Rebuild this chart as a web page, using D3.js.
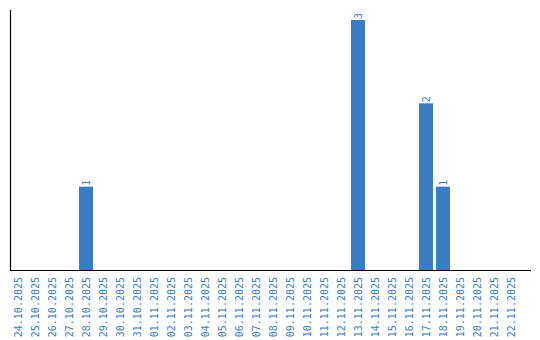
<!DOCTYPE html>
<html>
<head>
<meta charset="utf-8">
<script src="https://cdn.jsdelivr.net/npm/d3@7"></script>
<style>
    body { margin: 0; background: #fff; }
    svg text { font-family: "DejaVu Sans Mono", monospace; }
</style>
</head>
<body>
<div id="chart"></div>
<script>
var dates = ["24.10.2025", "25.10.2025", "26.10.2025", "27.10.2025", "28.10.2025", "29.10.2025",
    "30.10.2025", "31.10.2025", "01.11.2025", "02.11.2025", "03.11.2025", "04.11.2025",
    "05.11.2025", "06.11.2025", "07.11.2025", "08.11.2025", "09.11.2025", "10.11.2025",
    "11.11.2025", "12.11.2025", "13.11.2025", "14.11.2025", "15.11.2025", "16.11.2025",
    "17.11.2025", "18.11.2025", "19.11.2025", "20.11.2025", "21.11.2025", "22.11.2025"];
var counts = [0, 0, 0, 0, 1, 0, 0, 0, 0, 0, 0, 0, 0, 0, 0, 0, 0, 0, 0, 0, 3, 0, 0, 0, 2, 1, 0, 0, 0, 0];

var width = 540, height = 340;
var blue = "#3b7dc4";

var svg = d3.select("#chart").append("svg")
    .attr("width", width)
    .attr("height", height);

// x scale over the days
var x = d3.scaleBand().domain(dates).range([10, 519])
    .paddingInner(3 / 17).paddingOuter(1 / 17);

var y = d3.scaleLinear().domain([0, 3.12]).range([270, 10]);

var data = dates.map(function(d, i){ return {date: d, v: counts[i]}; });

// bars
svg.selectAll("rect.bar").data(data.filter(function(d){ return d.v > 0; }))
    .enter().append("rect")
    .attr("class", "bar")
    .attr("x", function(d){ return x(d.date); })
    .attr("y", function(d){ return y(d.v); })
    .attr("width", x.bandwidth())
    .attr("height", function(d){ return y(0) - y(d.v); })
    .style("fill", blue);

// value labels, rotated
svg.selectAll("text.val").data(data.filter(function(d){ return d.v > 0; }))
    .enter().append("text")
    .attr("class", "val")
    .attr("transform", function(d){
        return "translate(" + (x(d.date) + x.bandwidth() / 2 + 3.5) + "," + (y(d.v) - 1) + ") rotate(-90)";
    })
    .style("font-size", "10px")
    .style("fill", blue)
    .text(function(d){ return d.v; });

// bottom axis
var xAxis = d3.axisBottom(x).tickSize(0).tickPadding(0);
var xg = svg.append("g").attr("transform", "translate(0,270)").call(xAxis);
xg.select(".domain").remove();
xg.selectAll("text")
    .attr("transform", "translate(3.5,7) rotate(-90)")
    .attr("dy", null)
    .attr("y", 0)
    .attr("x", 0)
    .style("text-anchor", "end")
    .style("font-size", "10px")
    .style("font-family", "'DejaVu Sans Mono', monospace")
    .style("fill", blue);

// axis lines
svg.append("line").attr("x1", 10.5).attr("x2", 10.5).attr("y1", 10).attr("y2", 271)
    .style("stroke", "#000").style("stroke-width", 1.2);
svg.append("line").attr("x1", 10).attr("x2", 531).attr("y1", 270.5).attr("y2", 270.5)
    .style("stroke", "#000").style("stroke-width", 1.2);
</script>
</body>
</html>
